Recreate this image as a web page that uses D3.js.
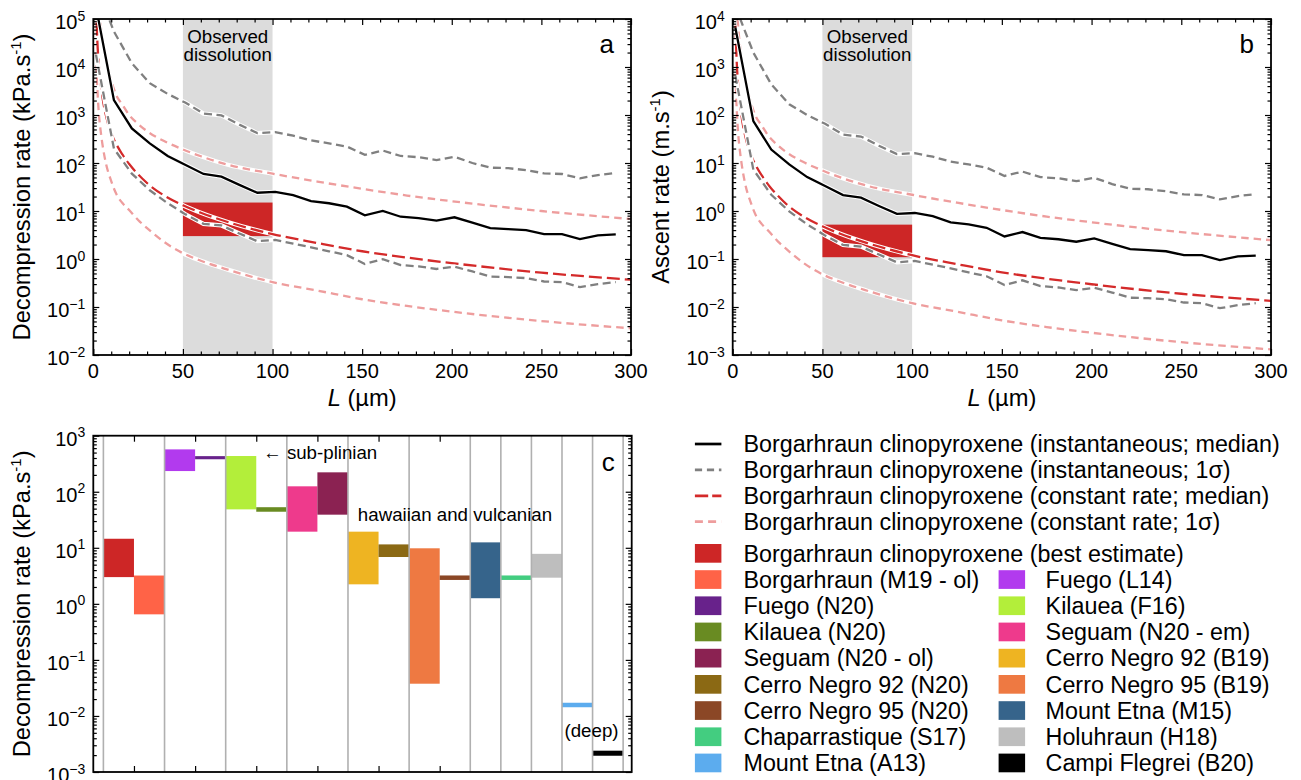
<!DOCTYPE html>
<html><head><meta charset="utf-8">
<script src="https://cdn.jsdelivr.net/npm/d3@7"></script>
<style>
body{margin:0;background:#fff;}
svg{font-family:"Liberation Sans",Arial,Helvetica,sans-serif;}
</style></head><body>
<svg id="chart" width="1301" height="780"></svg>
<script>
// ---------------- DATA ----------------
// crystal length L (µm) for the instantaneous-rate estimates
const L_inst = [1.5, 11.5, 21.5, 31.5, 41.5, 51.5, 61.5, 71.5, 81.5, 91.5, 101.5, 111.5, 121.5, 131.5, 141.5, 151.5, 161.5, 171.5, 181.5, 191.5, 201.5, 211.5, 221.5, 231.5, 241.5, 251.5, 261.5, 271.5, 281.5, 291.5];
// panel a: decompression rate (kPa/s)
const decompInstMedian = [180000, 2050, 525, 257, 140, 91, 59, 52, 35, 24, 25, 21.5, 16, 14.5, 12.3, 8.1, 10, 7.6, 7.1, 6.3, 7.4, 5.7, 4.4, 4.2, 4.0, 3.3, 3.3, 2.6, 3.1, 3.25];
const decompInstUpper = [500000, 55000, 12000, 4600, 2750, 1800, 1070, 980, 630, 420, 440, 370, 295, 257, 220, 148, 182, 140, 132, 115, 135, 100, 80, 78, 71, 61, 59, 48, 56, 62];
const decompInstLower = [18000, 200, 60, 27, 14.5, 8.5, 5.4, 5.0, 3.4, 2.35, 2.5, 2.1, 1.75, 1.45, 1.2, 0.79, 0.99, 0.75, 0.70, 0.62, 0.69, 0.55, 0.43, 0.42, 0.40, 0.34, 0.33, 0.26, 0.30, 0.33];
// panel b: ascent rate (m/s)
const ascInstMedian = [6545, 74.5, 19.1, 9.35, 5.09, 3.31, 2.15, 1.89, 1.27, 0.873, 0.909, 0.782, 0.582, 0.527, 0.447, 0.295, 0.364, 0.276, 0.258, 0.229, 0.269, 0.207, 0.16, 0.153, 0.145, 0.12, 0.12, 0.0945, 0.113, 0.118];
const ascInstUpper = [18182, 2000, 436, 167, 100, 65.5, 38.9, 35.6, 22.9, 15.3, 16.0, 13.5, 10.7, 9.35, 8.0, 5.38, 6.62, 5.09, 4.8, 4.18, 4.91, 3.64, 2.91, 2.84, 2.58, 2.22, 2.15, 1.75, 2.04, 2.25];
const ascInstLower = [655, 7.27, 2.18, 0.982, 0.527, 0.309, 0.196, 0.182, 0.124, 0.0855, 0.0909, 0.0764, 0.0636, 0.0527, 0.0436, 0.0287, 0.036, 0.0273, 0.0255, 0.0225, 0.0251, 0.02, 0.0156, 0.0153, 0.0145, 0.0124, 0.012, 0.00945, 0.0109, 0.012];

// constant-rate curves
const L_const = [1.5, 2.2, 3, 4, 5, 7, 10, 13, 16, 20, 25, 30, 40, 50, 60, 75, 100, 125, 150, 175, 200, 250, 300];
const decompConstMedian = [200000, 38000, 12000, 5000, 2500, 1000, 420, 240, 155, 95, 58, 38, 20.5, 13.2, 9.2, 5.9, 3.3, 2.15, 1.45, 1.07, 0.82, 0.52, 0.37];
const decompConstUpper = [3000000, 600000, 200000, 80000, 40000, 15000, 5200, 2500, 1700, 1000, 650, 460, 280, 192, 138, 92, 60, 41, 29, 21, 16, 10, 6.8];
const decompConstLower = [20000, 4000, 1200, 500, 260, 100, 42, 22, 15, 10.5, 6.5, 4.4, 2.2, 1.32, 0.92, 0.6, 0.33, 0.22, 0.145, 0.105, 0.08, 0.051, 0.036];
const ascConstMedian = [7273, 1382, 436, 182, 90.9, 36.4, 15.3, 8.73, 5.64, 3.45, 2.11, 1.38, 0.745, 0.48, 0.335, 0.215, 0.12, 0.0782, 0.0527, 0.0389, 0.0298, 0.0189, 0.01345];
const ascConstUpper = [109091, 21818, 7273, 2909, 1455, 545, 189, 90.9, 61.8, 36.4, 23.6, 16.7, 10.2, 6.98, 5.02, 3.35, 2.18, 1.49, 1.05, 0.764, 0.582, 0.364, 0.247];
const ascConstLower = [727, 145, 43.6, 18.2, 9.45, 3.64, 1.53, 0.8, 0.545, 0.382, 0.236, 0.16, 0.08, 0.048, 0.0335, 0.0218, 0.012, 0.008, 0.00527, 0.00382, 0.00291, 0.00185, 0.00131];

// observed dissolution window and best-estimate box
const dissolutionL = [50, 100];
const bestDecomp = [3, 15];
const bestAscent = [0.109, 0.52];

// panel c: literature decompression rates (kPa/s)
const sources = ["Borgarhraun clinopyroxene (best estimate)", "Borgarhraun (M19 - ol)", "Fuego (L14)", "Fuego (N20)", "Kilauea (F16)", "Kilauea (N20)", "Seguam (N20 - em)", "Seguam (N20 - ol)", "Cerro Negro 92 (B19)", "Cerro Negro 92 (N20)", "Cerro Negro 95 (B19)", "Cerro Negro 95 (N20)", "Mount Etna (M15)", "Chaparrastique (S17)", "Holuhraun (H18)", "Mount Etna (A13)", "Campi Flegrei (B20)"];
const rateMin = [3, 0.65, 234, 380, 48.5, 44, 19.4, 39, 2.23, 6.85, 0.0376, 2.67, 1.26, 2.67, 2.93, 0.0143, 0.00195];
const rateMax = [14.5, 3.2, 570, 432, 434, 53, 125, 222, 19.4, 11.5, 9.8, 3.21, 12.5, 3.21, 7.8, 0.0172, 0.0024];
const groupDividers = [0, 2, 4, 6, 8, 10, 12, 13, 14, 15, 16, 17];
const cTicks = [1, 3, 5, 7, 9, 11];

const xTicksMajor = [0, 50, 100, 150, 200, 250, 300];
const lineLegendLabels = ["Borgarhraun clinopyroxene (instantaneous; median)", "Borgarhraun clinopyroxene (instantaneous; 1\u03c3)", "Borgarhraun clinopyroxene (constant rate; median)", "Borgarhraun clinopyroxene (constant rate; 1\u03c3)"];
const legendCol1 = [0, 1, 3, 5, 7, 9, 11, 13, 15];
const legendCol2 = [2, 4, 6, 8, 10, 12, 14, 16];

// ---------------- STYLES ----------------
const sourceColors = ["#cd2626", "#ff6347", "#b23aee", "#68228b", "#b3ee3a", "#698b22", "#ee3a8c", "#8b2252", "#eeb422", "#8b6914", "#ee7942", "#8b4726", "#36648b", "#43cd80", "#bebebe", "#5cacee", "#000000"];
const ST = {
  black: {color: "#000", dash: null},
  grey: {color: "#808080", dash: "8,4.5"},
  red: {color: "#d42a2a", dash: "13,5"},
  pink: {color: "#ee9d9d", dash: "7.5,5"}
};
const legendStyles = [
  {color: "#000", dash: null},
  {color: "#808080", dash: "7.2,4.8"},
  {color: "#d42a2a", dash: "13.3,4"},
  {color: "#ee9d9d", dash: "8,5.2"}
];
const LW = 2.3;
const TICKFS = 20, TITLEFS = 23.7, LEGFS = 23.3, ANNFS = 18.7;

const svg = d3.select("#chart");

const boxA = {l: 93.3, r: 631, t: 19, b: 355};
const boxB = {l: 732.7, r: 1271, t: 19, b: 355};
const boxC = {l: 93.3, r: 631.7, t: 435.7, b: 772};

function supLabel(sel, exp) {
  sel.append("tspan").text("10");
  sel.append("tspan").attr("dy", -8.5).attr("font-size", 14).text(exp < 0 ? "\u2212" + (-exp) : String(exp));
}

function logAxes(box, y, eLo, eHi) {
  const g = svg.append("g");
  const major = [], minor = [];
  for (let e = eLo; e <= eHi; e++) {
    major.push(Math.pow(10, e));
    if (e < eHi) for (let m = 2; m <= 9; m++) minor.push(m * Math.pow(10, e));
  }
  const mk = (ax, tx) => {
    const a = g.append("g").attr("transform", tx).call(ax);
    a.select(".domain").remove();
    a.selectAll("line").attr("stroke", "#000").attr("stroke-width", 1.2);
  };
  mk(d3.axisLeft(y).tickValues(major).tickSize(-6).tickFormat(""), `translate(${box.l},0)`);
  mk(d3.axisLeft(y).tickValues(minor).tickSize(-3.5).tickFormat(""), `translate(${box.l},0)`);
  mk(d3.axisRight(y).tickValues(major).tickSize(-6).tickFormat(""), `translate(${box.r},0)`);
  mk(d3.axisRight(y).tickValues(minor).tickSize(-3.5).tickFormat(""), `translate(${box.r},0)`);
  for (let e = eLo; e <= eHi; e++) {
    const t = g.append("text").attr("x", box.l - 8).attr("y", y(Math.pow(10, e)) + 10)
      .attr("text-anchor", "end").attr("font-size", TICKFS);
    supLabel(t, e);
  }
}

function frame(box) {
  svg.append("rect").attr("x", box.l).attr("y", box.t).attr("width", box.r - box.l).attr("height", box.b - box.t)
    .attr("fill", "none").attr("stroke", "#000").attr("stroke-width", 1.8);
}

function yTitle(x, yc, main, sup) {
  const t = svg.append("text").attr("transform", `translate(${x},${yc}) rotate(-90)`)
    .attr("text-anchor", "middle").attr("font-size", TITLEFS);
  t.append("tspan").text(main);
  t.append("tspan").attr("dy", -9).attr("font-size", 15).text(sup);
  t.append("tspan").attr("dy", 9).text(")");
}

function linePanel(box, eLo, eHi, d, label, clipId) {
  const x = d3.scaleLinear().domain([0, 300]).range([box.l, box.r]);
  const y = d3.scaleLog().domain([Math.pow(10, eLo), Math.pow(10, eHi)]).range([box.b, box.t]);
  svg.append("clipPath").attr("id", clipId).append("rect")
    .attr("x", box.l).attr("y", box.t).attr("width", box.r - box.l).attr("height", box.b - box.t);
  const g = svg.append("g").attr("clip-path", `url(#${clipId})`);
  g.append("rect").attr("x", x(dissolutionL[0])).attr("width", x(dissolutionL[1]) - x(dissolutionL[0]))
    .attr("y", box.t).attr("height", box.b - box.t).attr("fill", "#dcdcdc");
  g.append("rect").attr("x", x(dissolutionL[0])).attr("width", x(dissolutionL[1]) - x(dissolutionL[0]))
    .attr("y", y(d.best[1])).attr("height", y(d.best[0]) - y(d.best[1])).attr("fill", "#cd2626");
  const lin = d3.line().x(p => x(p[0])).y(p => y(p[1]));
  const smooth = d3.line().x(p => x(p[0])).y(p => y(p[1])).curve(d3.curveMonotoneX);
  const series = [
    {xs: L_const, ys: d.cLow, st: ST.pink, gen: smooth},
    {xs: L_const, ys: d.cUp, st: ST.pink, gen: smooth},
    {xs: L_const, ys: d.cMed, st: ST.red, gen: smooth},
    {xs: L_inst, ys: d.iLow, st: ST.grey, gen: lin},
    {xs: L_inst, ys: d.iUp, st: ST.grey, gen: lin},
    {xs: L_inst, ys: d.iMed, st: ST.black, gen: lin}
  ];
  series.forEach(s => {
    const pts = s.xs.map((v, i) => [v, s.ys[i]]);
    g.append("path").attr("d", s.gen(pts)).attr("fill", "none").attr("stroke", "#fff").attr("stroke-width", LW + 2);
    const p = g.append("path").attr("d", s.gen(pts)).attr("fill", "none").attr("stroke", s.st.color).attr("stroke-width", LW);
    if (s.st.dash) p.attr("stroke-dasharray", s.st.dash);
  });
  const tx = (x(dissolutionL[0]) + x(dissolutionL[1])) / 2;
  svg.append("text").attr("x", tx).attr("y", 42.5).attr("text-anchor", "middle").attr("font-size", ANNFS).text("Observed");
  svg.append("text").attr("x", tx).attr("y", 61).attr("text-anchor", "middle").attr("font-size", ANNFS).text("dissolution");
  const ag = svg.append("g");
  const minorX = d3.range(0, 301, 10).filter(v => v % 50 !== 0);
  const mk = (ax, tx2) => {
    const a = ag.append("g").attr("transform", tx2).call(ax);
    a.select(".domain").remove();
    a.selectAll("line").attr("stroke", "#000").attr("stroke-width", 1.2);
    a.selectAll("text").remove();
  };
  mk(d3.axisBottom(x).tickValues(xTicksMajor).tickSize(-6), `translate(0,${box.b})`);
  mk(d3.axisBottom(x).tickValues(minorX).tickSize(-3.5), `translate(0,${box.b})`);
  mk(d3.axisTop(x).tickValues(xTicksMajor).tickSize(-6), `translate(0,${box.t})`);
  mk(d3.axisTop(x).tickValues(minorX).tickSize(-3.5), `translate(0,${box.t})`);
  xTicksMajor.forEach(v => {
    ag.append("text").attr("x", x(v)).attr("y", box.b + 23.3).attr("text-anchor", "middle").attr("font-size", TICKFS).text(v);
  });
  const xt = svg.append("text").attr("x", (box.l + box.r) / 2).attr("y", 406).attr("text-anchor", "middle").attr("font-size", TITLEFS);
  xt.append("tspan").attr("font-style", "italic").text("L");
  xt.append("tspan").text(" (\u00b5m)");
  logAxes(box, y, eLo, eHi);
  frame(box);
  svg.append("text").attr("x", box.r - 17).attr("y", 53).attr("text-anchor", "end").attr("font-size", 26).text(label);
}

linePanel(boxA, -2, 5, {best: bestDecomp, iMed: decompInstMedian, iUp: decompInstUpper, iLow: decompInstLower,
  cMed: decompConstMedian, cUp: decompConstUpper, cLow: decompConstLower}, "a", "clipA");
linePanel(boxB, -3, 4, {best: bestAscent, iMed: ascInstMedian, iUp: ascInstUpper, iLow: ascInstLower,
  cMed: ascConstMedian, cUp: ascConstUpper, cLow: ascConstLower}, "b", "clipB");
yTitle(30, (boxA.t + boxA.b) / 2, "Decompression rate (kPa.s", "-1");
yTitle(boxB.l - 64, (boxB.t + boxB.b) / 2, "Ascent rate (m.s", "-1");

// ---------------- PANEL C ----------------
(function () {
  const box = boxC;
  const x = d3.scaleLinear().domain([-0.33, 17.28]).range([box.l, box.r]);
  const y = d3.scaleLog().domain([1e-3, 1e3]).range([box.b, box.t]);
  const g = svg.append("g");
  sources.forEach((s, i) => {
    g.append("rect").attr("x", x(i)).attr("width", x(i + 1) - x(i))
      .attr("y", y(rateMax[i])).attr("height", y(rateMin[i]) - y(rateMax[i])).attr("fill", sourceColors[i]);
  });
  groupDividers.forEach(v => {
    g.append("line").attr("x1", x(v)).attr("x2", x(v)).attr("y1", box.t).attr("y2", box.b)
      .attr("stroke", "#b0b0b0").attr("stroke-width", 1.6);
  });
  const mk = (ax, tx) => {
    const a = g.append("g").attr("transform", tx).call(ax);
    a.select(".domain").remove();
    a.selectAll("line").attr("stroke", "#000").attr("stroke-width", 1.2);
    a.selectAll("text").remove();
  };
  mk(d3.axisBottom(x).tickValues(cTicks).tickSize(-6), `translate(0,${box.b})`);
  mk(d3.axisTop(x).tickValues(cTicks).tickSize(-6), `translate(0,${box.t})`);
  logAxes(box, y, -3, 3);
  frame(box);
  svg.append("text").attr("x", 263).attr("y", 459).attr("font-size", ANNFS).text("\u2190 sub-plinian");
  svg.append("text").attr("x", 455).attr("y", 521).attr("text-anchor", "middle").attr("font-size", ANNFS).text("hawaiian and vulcanian");
  svg.append("text").attr("x", 591.5).attr("y", 737).attr("text-anchor", "middle").attr("font-size", ANNFS).text("(deep)");
  svg.append("text").attr("x", box.r - 17).attr("y", 471).attr("text-anchor", "end").attr("font-size", 26).text("c");
  yTitle(30, (box.t + box.b) / 2, "Decompression rate (kPa.s", "-1");
})();

// ---------------- LEGEND ----------------
(function () {
  const g = svg.append("g");
  const rowY = d3.scaleLinear().domain([0, 1]).range([444, 469.9]);
  lineLegendLabels.forEach((lab, i) => {
    const yy = rowY(i);
    const st = legendStyles[i];
    const l = g.append("line").attr("x1", 694.9).attr("x2", 721.4).attr("y1", yy).attr("y2", yy)
      .attr("stroke", st.color).attr("stroke-width", 2.7);
    if (st.dash) l.attr("stroke-dasharray", st.dash);
    g.append("text").attr("x", 743.5).attr("y", yy + 8.2).attr("font-size", LEGFS).text(lab);
  });
  const pY = d3.scaleLinear().domain([0, 1]).range([553.3, 579.5]);
  const drawPatch = (idx, row, px, tx) => {
    const yy = pY(row);
    g.append("rect").attr("x", px).attr("y", yy - 9.3).attr("width", 26.5).attr("height", 18.7).attr("fill", sourceColors[idx]);
    g.append("text").attr("x", tx).attr("y", yy + 8.2).attr("font-size", LEGFS).text(sources[idx]);
  };
  legendCol1.forEach((idx, r) => drawPatch(idx, r, 694.9, 743.5));
  legendCol2.forEach((idx, r) => drawPatch(idx, r + 1, 998.6, 1045.6));
})();
</script>
</body></html>
